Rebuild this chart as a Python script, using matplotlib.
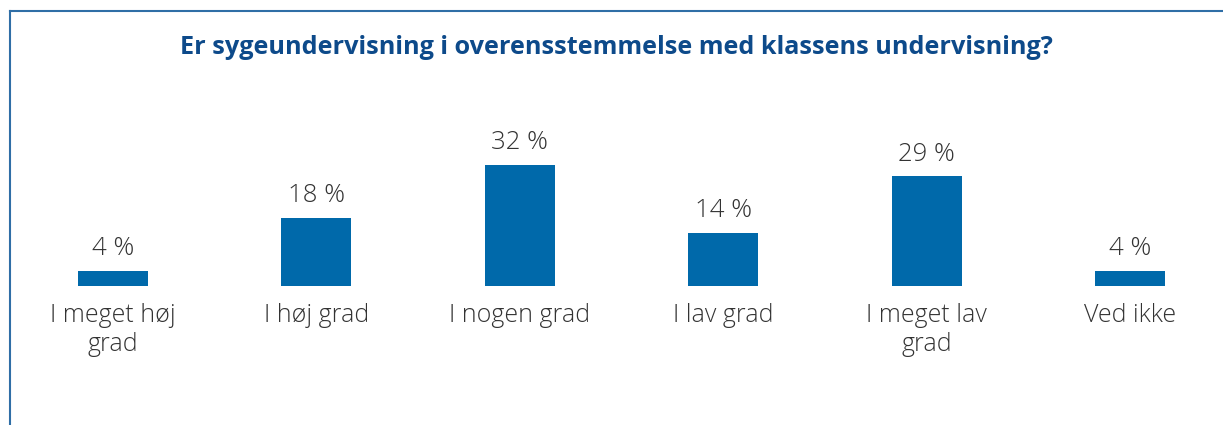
import matplotlib.pyplot as plt
from matplotlib.lines import Line2D

categories = ["I meget høj\ngrad", "I høj grad", "I nogen grad", "I lav grad", "I meget lav\ngrad", "Ved ikke"]
values = [4, 18, 32, 14, 29, 4]
title = "Er sygeundervisning i overensstemmelse med klassens undervisning?"

bar_color = "#0069aa"
title_color = "#0d4a8a"
frame_color = "#2f6ea6"
text_color = "#333333"

plt.rcParams['font.family'] = ['Open Sans', 'DejaVu Sans']

fig = plt.figure(figsize=(12.23, 4.25), dpi=100)
ax = fig.add_axes([0, 0, 1, 1])

# bar centres sit ~203 px apart, first one at x=113; baseline at y=286 from top
x = list(range(len(values)))
ax.bar(x, values, width=70 / 203.4, color=bar_color)
ax.set_xlim(-113 / 203.4, (1223 - 113) / 203.4)
ax.set_ylim(-139 / 3.78, (425 - 139) / 3.78)
ax.axis('off')

for xi, v in zip(x, values):
    ax.annotate(f"{v} %", (xi, v), xytext=(0, 7), textcoords='offset points',
                ha='center', va='bottom', fontsize=18.5, fontweight='light',
                color=text_color)

for xi, lab in zip(x, categories):
    ax.annotate(lab, (xi, 0), xytext=(0, -12), textcoords='offset points',
                ha='center', va='top', fontsize=18, fontweight='light',
                color=text_color, linespacing=1.25)

fig.text(0.504, 1 - 47 / 425, title, ha='center', va='center',
         fontsize=18.2, fontweight='bold', color=title_color)

# frame along the top and left edges
fig.add_artist(Line2D([10 / 1223, 1], [1 - 11 / 425, 1 - 11 / 425],
                      transform=fig.transFigure, color=frame_color, lw=1.5))
fig.add_artist(Line2D([10 / 1223, 10 / 1223], [0, 1 - 11 / 425],
                      transform=fig.transFigure, color=frame_color, lw=1.5))

fig.savefig("out.png", dpi=100)
